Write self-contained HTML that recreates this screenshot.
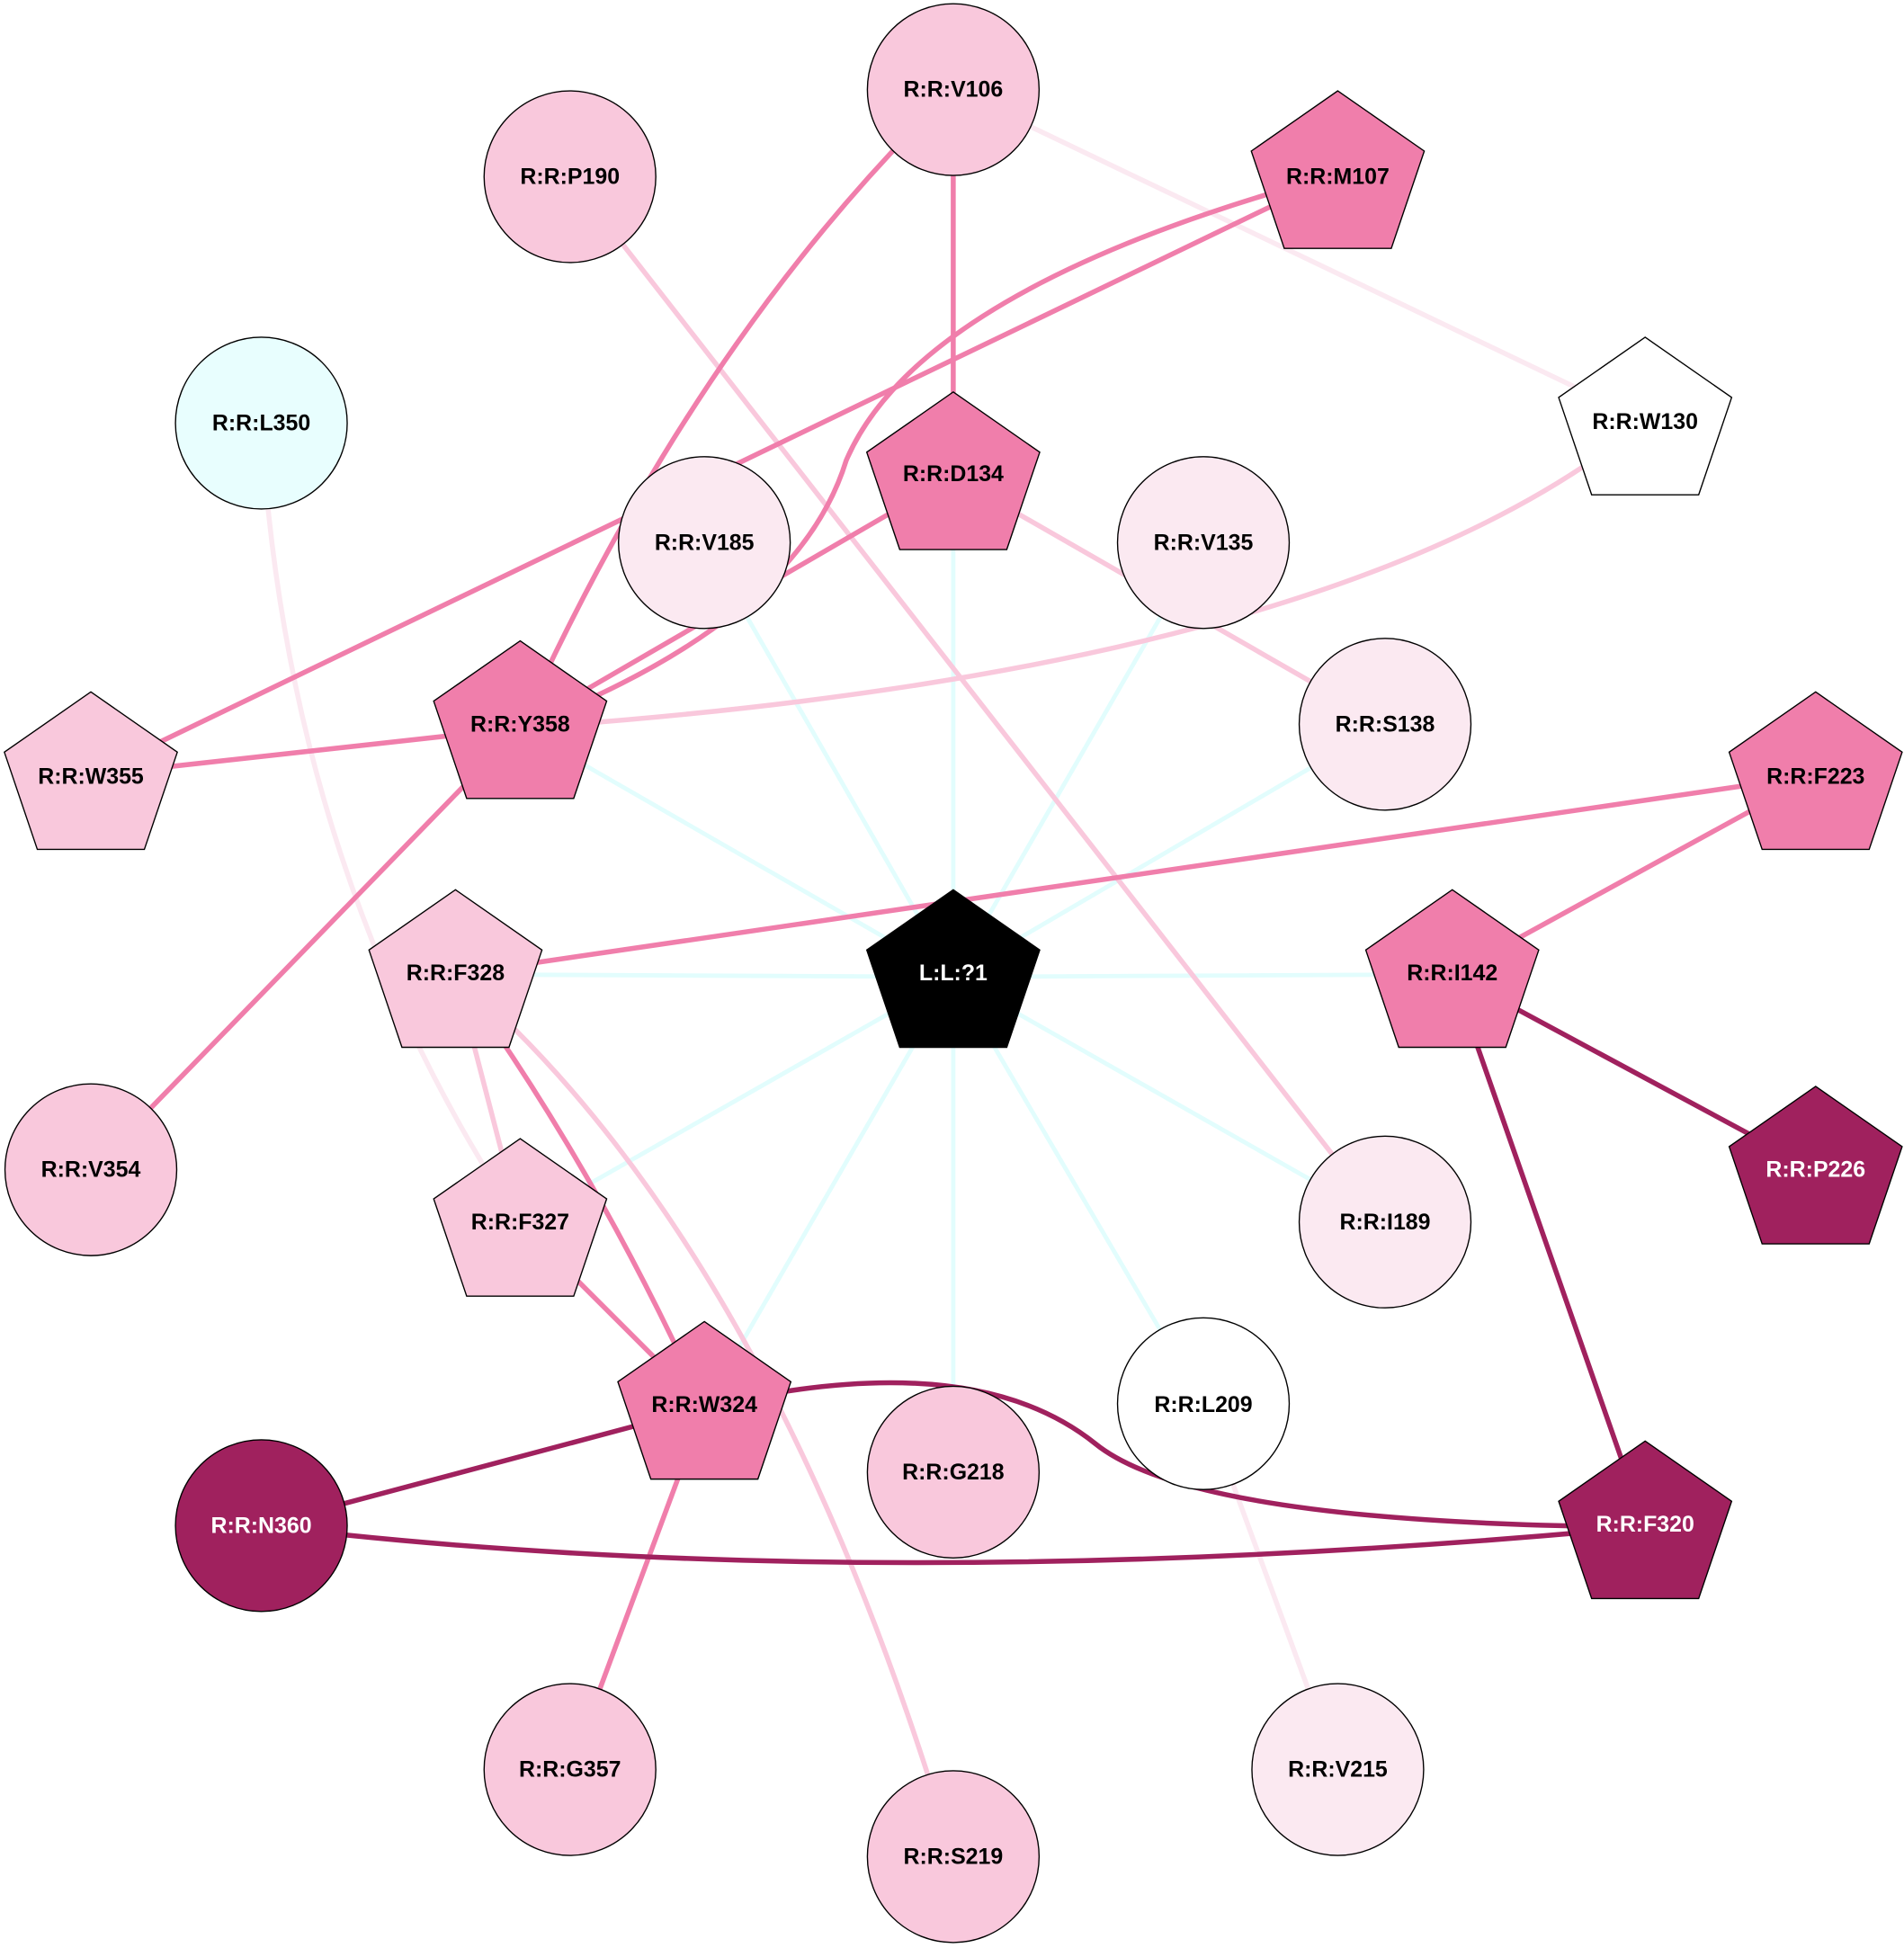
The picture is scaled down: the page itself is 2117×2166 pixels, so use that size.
<!DOCTYPE html>
<html><head><meta charset="utf-8"><style>html,body{margin:0;padding:0;background:#fff}svg{display:block}</style></head>
<body>
<svg width="2117" height="2166" viewBox="0 0 1530 1565.4" xmlns="http://www.w3.org/2000/svg">
<g fill="none" stroke-width="4">
<g stroke="#e2fdfd" stroke-width="3.5">
<line x1="766" y1="785" x2="566" y2="436"/>
<line x1="766" y1="785" x2="766" y2="383"/>
<line x1="766" y1="785" x2="967" y2="436"/>
<line x1="766" y1="785" x2="1113" y2="582"/>
<line x1="766" y1="785" x2="418" y2="585"/>
<line x1="766" y1="785" x2="366" y2="783"/>
<line x1="766" y1="785" x2="1167" y2="783"/>
<line x1="766" y1="785" x2="418" y2="983"/>
<line x1="766" y1="785" x2="1113" y2="982"/>
<line x1="766" y1="785" x2="566" y2="1131"/>
<line x1="766" y1="785" x2="766" y2="1183"/>
<line x1="766" y1="785" x2="967" y2="1128"/>
</g>
<path d="M766 72 L1322 338" stroke="#fbe9f1"/>
<path d="M210 340 Q230 700 418 983" stroke="#fbe9f1"/>
<path d="M967 1128 L1075 1422" stroke="#fbe9f1"/>
<path d="M458 142 L1113 982" stroke="#f9c8dc"/>
<path d="M766 383 L1113 582" stroke="#f9c8dc"/>
<path d="M1322 338 Q1080 540 418 585" stroke="#f9c8dc"/>
<path d="M366 783 L418 983" stroke="#f9c8dc"/>
<path d="M366 783 Q620 1000 766 1492" stroke="#f9c8dc"/>
<path d="M766 72 L766 383" stroke="#f07eab"/>
<path d="M766 72 Q560 270 418 585" stroke="#f07eab"/>
<path d="M1075 140 L73 623" stroke="#f07eab"/>
<path d="M1075 140 Q740 230 680 370 Q640 500 418 585" stroke="#f07eab"/>
<path d="M766 383 L418 585" stroke="#f07eab"/>
<path d="M418 585 L73 623" stroke="#f07eab"/>
<path d="M418 585 L73 940" stroke="#f07eab"/>
<path d="M1459 623 L366 783" stroke="#f07eab"/>
<path d="M1459 623 L1167 783" stroke="#f07eab"/>
<path d="M366 783 Q480 940 566 1131" stroke="#f07eab"/>
<path d="M418 983 L566 1131" stroke="#f07eab"/>
<path d="M566 1131 L458 1422" stroke="#f07eab"/>
<path d="M1167 783 L1459 940" stroke="#a0215e"/>
<path d="M1167 783 L1322 1227" stroke="#a0215e"/>
<path d="M566 1131 L210 1226" stroke="#a0215e"/>
<path d="M566 1131 Q780 1080 880 1160 Q960 1225 1322 1227" stroke="#a0215e"/>
<path d="M210 1226 Q700 1285 1322 1227" stroke="#a0215e"/>
</g>
<g stroke="#000" stroke-width="1">
<circle cx="766" cy="72" r="69" fill="#f9c8dc"/>
<circle cx="458" cy="142" r="69" fill="#f9c8dc"/>
<circle cx="210" cy="340" r="69" fill="#e8fefe"/>
<circle cx="566" cy="436" r="69" fill="#fbe9f1"/>
<circle cx="967" cy="436" r="69" fill="#fbe9f1"/>
<circle cx="1113" cy="582" r="69" fill="#fbe9f1"/>
<circle cx="73" cy="940" r="69" fill="#f9c8dc"/>
<circle cx="1113" cy="982" r="69" fill="#fbe9f1"/>
<circle cx="967" cy="1128" r="69" fill="#ffffff"/>
<circle cx="766" cy="1183" r="69" fill="#f9c8dc"/>
<circle cx="210" cy="1226" r="69" fill="#a0215e"/>
<circle cx="458" cy="1422" r="69" fill="#f9c8dc"/>
<circle cx="1075" cy="1422" r="69" fill="#fbe9f1"/>
<circle cx="766" cy="1492" r="69" fill="#f9c8dc"/>
</g>
<defs><polygon id="pg" points="0,-70 69.5,-21.6 43,56.6 -43,56.6 -69.5,-21.6"/></defs>
<g stroke="#000" stroke-width="1">
<use href="#pg" x="1075" y="143" fill="#f07eab"/>
<use href="#pg" x="1322" y="341" fill="#ffffff"/>
<use href="#pg" x="766" y="385" fill="#f07eab"/>
<use href="#pg" x="418" y="585" fill="#f07eab"/>
<use href="#pg" x="73" y="626" fill="#f9c8dc"/>
<use href="#pg" x="1459" y="626" fill="#f07eab"/>
<use href="#pg" x="366" y="785" fill="#f9c8dc"/>
<use href="#pg" x="766" y="785" fill="#000000"/>
<use href="#pg" x="1167" y="785" fill="#f07eab"/>
<use href="#pg" x="418" y="985" fill="#f9c8dc"/>
<use href="#pg" x="1459" y="943" fill="#a0215e"/>
<use href="#pg" x="566" y="1132" fill="#f07eab"/>
<use href="#pg" x="1322" y="1228" fill="#a0215e"/>
</g>
<g font-family="Liberation Sans, Arial, sans-serif" font-weight="bold" font-size="18" text-anchor="middle" dominant-baseline="central" fill="#000">
<text x="766" y="72">R:R:V106</text>
<text x="458" y="142">R:R:P190</text>
<text x="1075" y="142">R:R:M107</text>
<text x="210" y="340">R:R:L350</text>
<text x="1322" y="339">R:R:W130</text>
<text x="766" y="381">R:R:D134</text>
<text x="566" y="436">R:R:V185</text>
<text x="967" y="436">R:R:V135</text>
<text x="418" y="582">R:R:Y358</text>
<text x="1113" y="582">R:R:S138</text>
<text x="73" y="624">R:R:W355</text>
<text x="1459" y="624">R:R:F223</text>
<text x="366" y="782">R:R:F328</text>
<text x="766" y="782" fill="#fff">L:L:?1</text>
<text x="1167" y="782">R:R:I142</text>
<text x="73" y="940">R:R:V354</text>
<text x="418" y="982">R:R:F327</text>
<text x="1113" y="982">R:R:I189</text>
<text x="1459" y="940" fill="#fff">R:R:P226</text>
<text x="566" y="1129">R:R:W324</text>
<text x="967" y="1129">R:R:L209</text>
<text x="766" y="1183">R:R:G218</text>
<text x="210" y="1226" fill="#fff">R:R:N360</text>
<text x="1322" y="1225" fill="#fff">R:R:F320</text>
<text x="458" y="1422">R:R:G357</text>
<text x="1075" y="1422">R:R:V215</text>
<text x="766" y="1492">R:R:S219</text>
</g>
</svg>
</body></html>
